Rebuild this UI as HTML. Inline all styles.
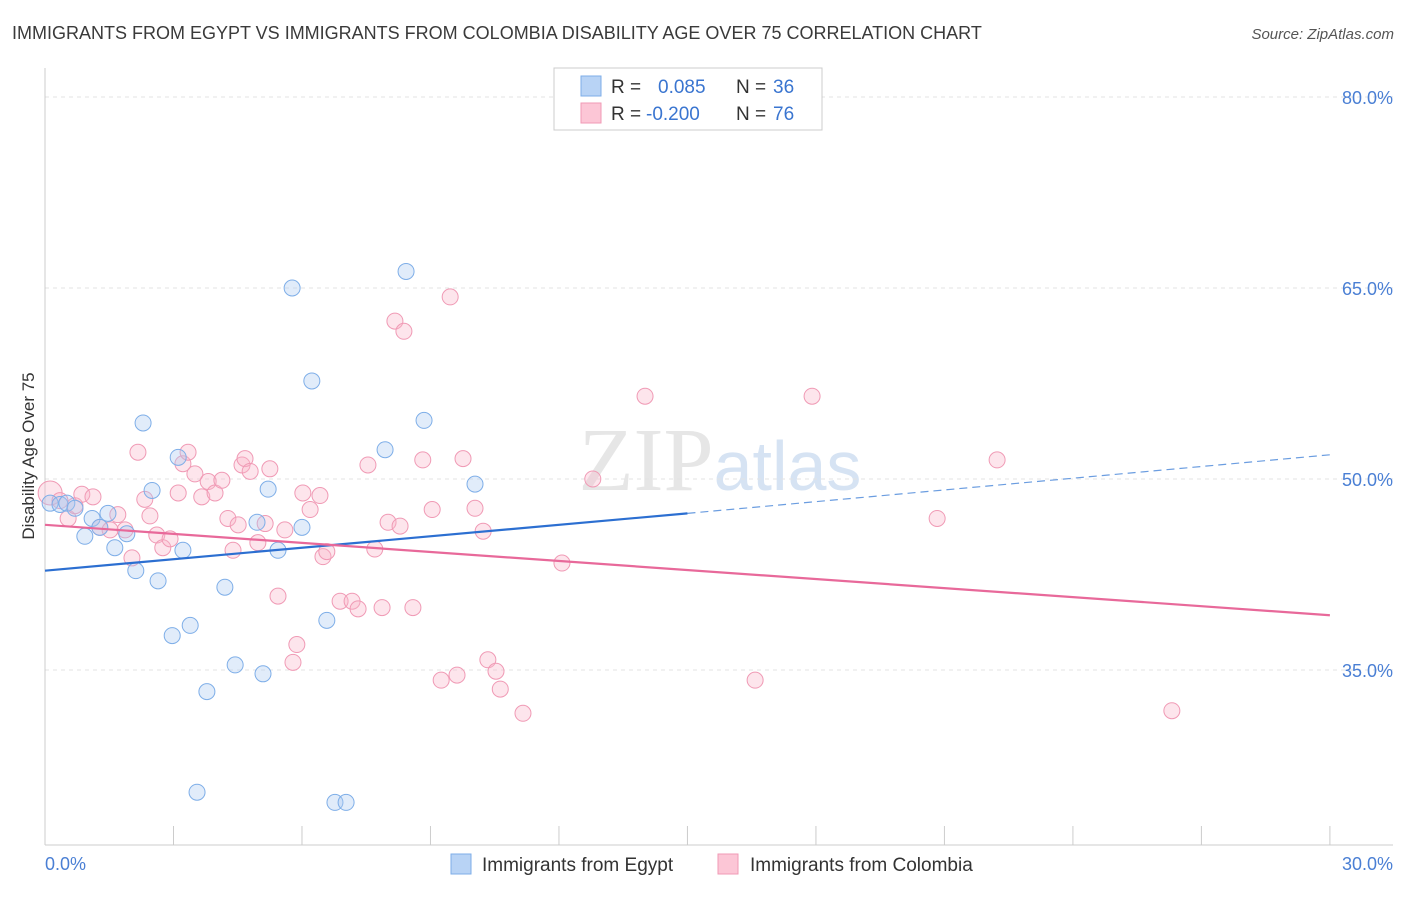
<!DOCTYPE html>
<html><head><meta charset="utf-8"><style>
body{margin:0;background:#fff;font-family:"Liberation Sans",sans-serif;}
</style></head><body>
<svg id="chart" width="1406" height="892" xmlns="http://www.w3.org/2000/svg" font-family="Liberation Sans, sans-serif">
<text x="12" y="39" font-size="18" fill="#3a3a3a">IMMIGRANTS FROM EGYPT VS IMMIGRANTS FROM COLOMBIA DISABILITY AGE OVER 75 CORRELATION CHART</text>
<text x="1394" y="39" font-size="15" fill="#555" font-style="italic" text-anchor="end">Source: ZipAtlas.com</text>
<text x="720" y="490" font-size="90" fill="#e6e6e6" text-anchor="middle" font-family="Liberation Serif, serif">ZIP<tspan fill="#d6e3f3" font-family="Liberation Sans, sans-serif" font-size="70">atlas</tspan></text>
<g id="grid"></g>
<line x1="45" y1="68" x2="45" y2="845" stroke="#ccc"/>
<line x1="45" y1="845" x2="1393" y2="845" stroke="#ccc"/>
<g id="xticks"></g>
<text transform="translate(34,456) rotate(-90)" font-size="17" fill="#333" text-anchor="middle">Disability Age Over 75</text>
<text x="45" y="870" font-size="18" fill="#4a7fd4">0.0%</text>
<text x="1393" y="870" font-size="18" fill="#4a7fd4" text-anchor="end">30.0%</text>
<g id="points"></g>
<g id="lines"></g>
<g>
<rect x="554" y="68" width="268" height="62" fill="#fff" stroke="#ccc"/>
<rect x="581" y="76" width="20" height="20" fill="#b8d3f5" stroke="#7eaee8"/>
<rect x="581" y="103" width="20" height="20" fill="#fcc6d6" stroke="#f09ab5"/>
<text x="611" y="93" font-size="19" fill="#333">R =</text>
<text x="658" y="93" font-size="19" fill="#3a75d0">0.085</text>
<text x="736" y="93" font-size="19" fill="#333">N =</text>
<text x="773" y="93" font-size="19" fill="#3a75d0">36</text>
<text x="611" y="120" font-size="19" fill="#333">R =</text>
<text x="646" y="120" font-size="19" fill="#3a75d0">-0.200</text>
<text x="736" y="120" font-size="19" fill="#333">N =</text>
<text x="773" y="120" font-size="19" fill="#3a75d0">76</text>
</g>
<g>
<rect x="451" y="854" width="20" height="20" fill="#b8d3f5" stroke="#7eaee8"/>
<text x="482" y="871" font-size="19" fill="#333">Immigrants from Egypt</text>
<rect x="718" y="854" width="20" height="20" fill="#fcc6d6" stroke="#f09ab5"/>
<text x="750" y="871" font-size="19" fill="#333">Immigrants from Colombia</text>
</g>
</svg>
<script>
const yTicks=[35,50,65,80];
const yTickLabels=["35.0%","50.0%","65.0%","80.0%"];
const xTicks=[0,3,6,9,12,15,18,21,24,27,30];
const egyptX=[0.12,0.35,0.51,0.70,0.93,1.10,1.28,1.47,1.63,1.91,2.12,2.29,2.50,2.64,2.97,3.11,3.22,3.39,3.78,3.55,4.20,4.44,4.95,5.09,5.21,5.44,5.77,6.00,6.23,6.58,6.77,7.03,7.94,8.43,8.85,10.04];
const egyptY=[48.1,48.0,48.1,47.7,45.5,46.9,46.2,47.3,44.6,45.7,42.8,54.4,49.1,42.0,37.7,51.7,44.4,38.5,33.3,25.4,41.5,35.4,46.6,34.7,49.2,44.4,65.0,46.2,57.7,38.9,24.6,24.6,52.3,66.3,54.6,49.6];
const colX=[0.12,0.35,0.54,0.70,0.86,1.12,1.28,1.52,1.70,1.87,2.03,2.17,2.33,2.45,2.61,2.75,2.92,3.11,3.22,3.34,3.50,3.66,3.81,3.97,4.13,4.27,4.39,4.51,4.60,4.67,4.79,4.97,5.14,5.25,5.44,5.60,5.79,5.88,6.02,6.19,6.42,6.49,6.58,6.89,7.17,7.31,7.54,7.70,7.87,8.01,8.17,8.29,8.38,8.59,8.82,9.04,9.25,9.46,9.62,9.76,10.04,10.23,10.34,10.53,10.63,11.16,12.07,12.79,14.01,16.58,17.91,20.83,22.23,26.31];
const colY=[48.9,48.3,46.9,47.9,48.8,48.6,46.2,46.0,47.2,46.0,43.8,52.1,48.4,47.1,45.6,44.6,45.3,48.9,51.2,52.1,50.4,48.6,49.8,48.9,49.9,46.9,44.4,46.4,51.1,51.6,50.6,45.0,46.5,50.8,40.8,46.0,35.6,37.0,48.9,47.6,48.7,43.9,44.3,40.4,40.4,39.8,51.1,44.5,39.9,46.6,62.4,46.3,61.6,39.9,51.5,47.6,34.2,64.3,34.6,51.6,47.7,45.9,35.8,34.9,33.5,31.6,43.4,50.0,56.5,34.2,56.5,46.9,51.5,31.8];
const egyptLine=[[0,42.8],[15,47.3],[30,51.9]];
const colLine=[[0,46.4],[30,39.3]];
const X=v=>45+v*42.83, Y=v=>97+(80-v)*12.733;
const NS="http://www.w3.org/2000/svg";
function mk(t,a,p){const e=document.createElementNS(NS,t);for(const k in a)e.setAttribute(k,a[k]);document.getElementById(p).appendChild(e);return e;}
yTicks.forEach((t,i)=>{
 const l=mk('line',{x1:45,x2:1393,y1:Y(t),y2:Y(t),stroke:'#e3e3e3','stroke-dasharray':'4,4'},'grid');
 
 
 const tx=mk('text',{x:1393,y:Y(t)+7,'font-size':18,fill:'#4a7fd4','text-anchor':'end'},'grid');
 tx.textContent=yTickLabels[i];
 
 
});
xTicks.forEach(t=>{
 const l=mk('line',{x1:X(t),x2:X(t),y1:826,y2:845,stroke:'#ccc'},'xticks');
 
 
});
colX.forEach((v,i)=>{
 const c=mk('circle',{cx:X(v),cy:Y(colY[i]),r:i==0?12:8,fill:'rgba(248,180,200,0.35)',stroke:'#f09ab5','stroke-width':1},'points');
 
 
});
egyptX.forEach((v,i)=>{
 const c=mk('circle',{cx:X(v),cy:Y(egyptY[i]),r:8,fill:'rgba(170,200,240,0.35)',stroke:'#7eaee8','stroke-width':1},'points');
 
 
});
let l1=mk('line',{x1:X(egyptLine[0][0]),y1:Y(egyptLine[0][1]),x2:X(egyptLine[1][0]),y2:Y(egyptLine[1][1]),stroke:'#2c6fd1','stroke-width':2.2},'lines');


let l2=mk('line',{x1:X(egyptLine[1][0]),y1:Y(egyptLine[1][1]),x2:X(egyptLine[2][0]),y2:Y(egyptLine[2][1]),stroke:'#6b9de0','stroke-width':1.2,'stroke-dasharray':'8,5'},'lines');


let l3=mk('line',{x1:X(colLine[0][0]),y1:Y(colLine[0][1]),x2:X(colLine[1][0]),y2:Y(colLine[1][1]),stroke:'#e8699a','stroke-width':2.2},'lines');


</script>
</body></html>
